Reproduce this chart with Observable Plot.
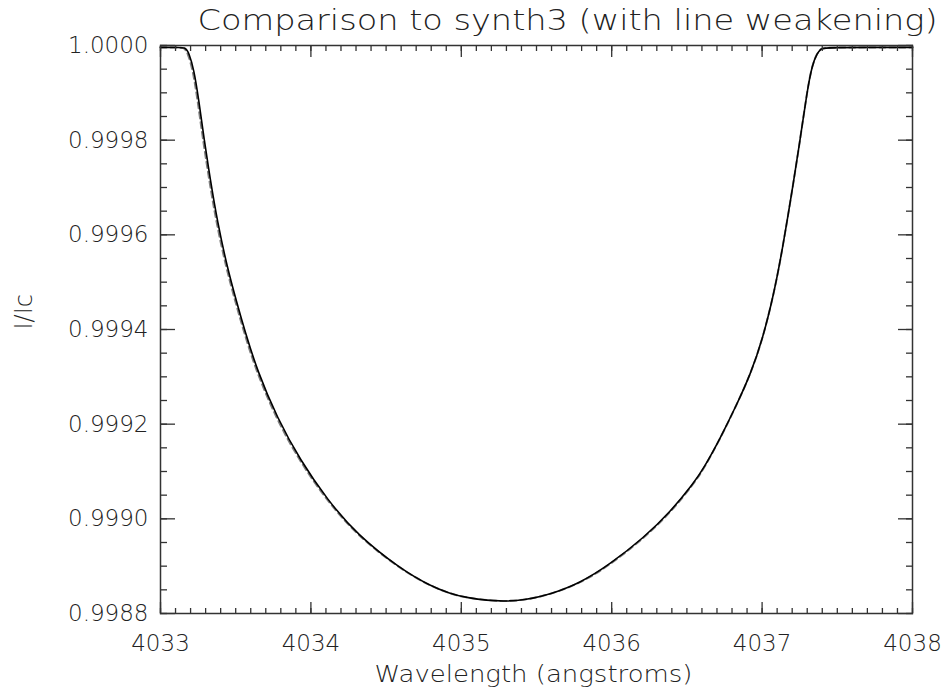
<!DOCTYPE html>
<html><head><meta charset="utf-8">
<script src="https://cdn.jsdelivr.net/npm/d3@7"></script>
<script src="https://cdn.jsdelivr.net/npm/@observablehq/plot@0.6"></script>
<style>body{margin:0;background:#fff;overflow:hidden}</style>
</head><body><div id="chart"></div>
<script>
const titleText = "Comparison to synth3 (with line weakening)";
const xLabel = "Wavelength (angstroms)";
const yLabel = "I/Ic";
const xMajorTicks = [4033, 4034, 4035, 4036, 4037, 4038];
const yMajorTicks = [0.9988, 0.9990, 0.9992, 0.9994, 0.9996, 0.9998, 1.0000];

// solid line (computed profile)
const wavelength = [4033.000, 4033.133, 4033.160, 4033.175, 4033.188, 4033.221, 4033.255, 4033.288, 4033.332, 4033.377, 4033.443, 4033.510, 4033.560, 4033.643, 4033.776, 4033.931, 4034.108, 4034.308, 4034.596, 4034.795, 4034.928, 4035.017, 4035.283, 4035.527, 4035.793, 4035.992, 4036.213, 4036.391, 4036.546, 4036.612, 4036.723, 4036.834, 4036.923, 4037.001, 4037.078, 4037.134, 4037.211, 4037.255, 4037.300, 4037.333, 4037.366, 4037.392, 4037.410, 4038.000];
const fluxModel = [0.999996, 0.999996, 0.999995, 0.999991, 0.999984, 0.999952, 0.999884, 0.999806, 0.999715, 0.999630, 0.999532, 0.999454, 0.999398, 0.999313, 0.999213, 0.999123, 0.999041, 0.998966, 0.998894, 0.998858, 0.998842, 0.998834, 0.998823, 0.998833, 0.998864, 0.998905, 0.998960, 0.999015, 0.999076, 0.999107, 0.999171, 0.999243, 0.999306, 0.999377, 0.999475, 0.999567, 0.999715, 0.999806, 0.999905, 0.999959, 0.999984, 0.999993, 0.999996, 0.999996];

// dashed line (synth3)
const synthWavelength = [4033.000, 4033.125, 4033.152, 4033.167, 4033.180, 4033.213, 4033.247, 4033.280, 4033.324, 4033.369, 4033.435, 4033.502, 4033.552, 4033.635, 4033.768, 4033.923, 4034.101, 4034.303, 4034.593, 4034.794, 4034.928, 4035.017, 4035.283, 4035.529, 4035.798, 4035.997, 4036.218, 4036.396, 4036.550, 4036.615, 4036.724, 4036.834, 4036.923, 4037.001, 4037.078, 4037.134, 4037.211, 4037.255, 4037.300, 4037.333, 4037.366, 4037.392, 4037.410, 4038.000];
const fluxSynth3 = [0.999996, 0.999996, 0.999995, 0.999991, 0.999984, 0.999952, 0.999884, 0.999806, 0.999715, 0.999630, 0.999532, 0.999454, 0.999398, 0.999313, 0.999213, 0.999123, 0.999041, 0.998966, 0.998894, 0.998858, 0.998842, 0.998834, 0.998823, 0.998833, 0.998864, 0.998905, 0.998960, 0.999015, 0.999076, 0.999107, 0.999171, 0.999243, 0.999306, 0.999377, 0.999475, 0.999567, 0.999715, 0.999806, 0.999905, 0.999959, 0.999984, 0.999993, 0.999996, 0.999996];

const solid = wavelength.map((x, i) => ({x, y: fluxModel[i]}));
const dashed = synthWavelength.map((x, i) => ({x, y: fluxSynth3[i]}));
const xMinorTicks = d3.ticks(4033, 4038, 50);
const yMinorTicks = d3.ticks(0.9988, 1.0, 24);

const ink = "#222";
const axisColor = "#333";
const font = "'DejaVu Sans', sans-serif";
const noText = () => "";

const chart = Plot.plot({
  width: 948, height: 694,
  marginLeft: 160, marginRight: 36, marginTop: 45, marginBottom: 81,
  style: {fontFamily: font, fontSize: "23px", fontWeight: 200, background: "#fff", color: ink, overflow: "visible"},
  x: {domain: [4033, 4038], axis: null, label: null},
  y: {domain: [0.9988, 1.0000], axis: null, label: null},
  marks: [
    Plot.line(dashed, {x: "x", y: "y", stroke: "#808080", strokeWidth: 2, strokeDasharray: "6,4", curve: "basis"}),
    Plot.line(solid, {x: "x", y: "y", stroke: "#000", strokeWidth: 1.6, curve: "basis"}),
    Plot.frame({stroke: axisColor, strokeWidth: 1.5}),
    // inward tick marks on all four sides
    Plot.axisX(xMinorTicks, {anchor: "bottom", tickSize: -5, tickFormat: noText, label: null, stroke: axisColor, strokeWidth: 1.3}),
    Plot.axisX(xMajorTicks, {anchor: "bottom", tickSize: -11, tickFormat: noText, label: null, stroke: axisColor, strokeWidth: 1.3}),
    Plot.axisX(xMinorTicks, {anchor: "top", tickSize: -5, tickFormat: noText, label: null, stroke: axisColor, strokeWidth: 1.3}),
    Plot.axisX(xMajorTicks, {anchor: "top", tickSize: -11, tickFormat: noText, label: null, stroke: axisColor, strokeWidth: 1.3}),
    Plot.axisY(yMinorTicks, {anchor: "left", tickSize: -7, tickFormat: noText, label: null, stroke: axisColor, strokeWidth: 1.3}),
    Plot.axisY(yMajorTicks, {anchor: "left", tickSize: -15, tickFormat: noText, label: null, stroke: axisColor, strokeWidth: 1.3}),
    Plot.axisY(yMinorTicks, {anchor: "right", tickSize: -7, tickFormat: noText, label: null, stroke: axisColor, strokeWidth: 1.3}),
    Plot.axisY(yMajorTicks, {anchor: "right", tickSize: -15, tickFormat: noText, label: null, stroke: axisColor, strokeWidth: 1.3}),
    // tick labels
    Plot.axisX(xMajorTicks, {anchor: "bottom", tickSize: 0, tickPadding: 21, tickFormat: d3.format("d"), label: null, fill: ink, fontSize: 23}),
    Plot.axisY(yMajorTicks, {anchor: "left", tickSize: 0, tickPadding: 12, tickFormat: d3.format(".4f"), label: null, fill: ink, fontSize: 23}),
    // axis titles and chart title
    Plot.text([xLabel], {frameAnchor: "bottom", dy: 68, dx: -3, fill: ink, fontSize: 23, className: "xlab"}),
    Plot.text([yLabel], {frameAnchor: "left", dx: -136, rotate: -90, fill: ink, fontSize: 24, className: "ylab"}),
    Plot.text([titleText], {frameAnchor: "top", dy: -35, dx: 31, fill: ink, fontSize: 28, className: "ttl"})
  ]
});
document.getElementById("chart").appendChild(chart);
const svg = d3.select(chart);
svg.selectAll(".ttl text").attr("textLength", 740).attr("lengthAdjust", "spacingAndGlyphs");
svg.selectAll(".xlab text").attr("textLength", 318).attr("lengthAdjust", "spacingAndGlyphs");
</script>
</body></html>
